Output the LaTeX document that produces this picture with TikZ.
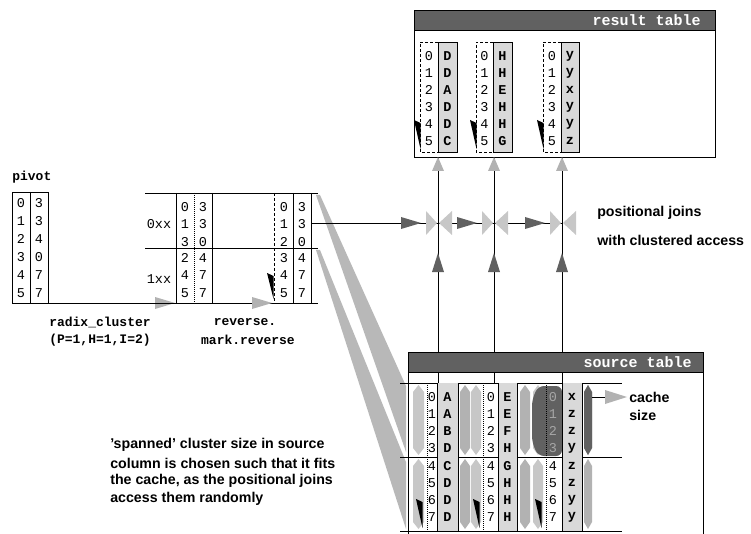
\documentclass[tikz,border=0pt]{standalone}
\usepackage{fontspec}
\setmainfont{Liberation Sans}
\newfontfamily\mono{Liberation Mono}
\usetikzlibrary{arrows.meta}
\newcommand\hexcol[5]{\fill[#5] (#1,#3+7) -- ({(#1+#2)/2},#3) -- (#2,#3+7) -- (#2,#4-7) -- ({(#1+#2)/2},#4) -- (#1,#4-7) -- cycle;}
\newcommand\wedgeat[3]{\fill ({#1-6},#2) -- ({#1+0.5},{#2+3}) -- ({#1+0.5},#3) -- cycle;}
\newcommand\rtri[3]{\fill[#3] ({#1-20},{#2-6}) -- (#1,#2) -- ({#1-20},{#2+6}) -- cycle;}
\newcommand\utri[4]{\fill[#4] ({#1-6},{#2+#3}) -- (#1,#2) -- ({#1+6},{#2+#3}) -- cycle;}
\begin{document}
\begin{tikzpicture}[x=1pt,y=-1pt,line width=0.6pt,
  every node/.style={inner sep=0pt},
  dig/.style={font=\mono\fontsize{13.5}{13.5}\selectfont},
  let/.style={font=\mono\bfseries\fontsize{13.5}{13.5}\selectfont},
  lab/.style={font=\mono\bfseries\fontsize{13}{13}\selectfont},
  ttl/.style={font=\mono\bfseries\fontsize{15}{15}\selectfont,text=white},
  note/.style={font=\bfseries\fontsize{14.2}{18}\selectfont,anchor=west},
  light/.style={fill=black!30},
  dark/.style={fill=black!62},
  fan/.style={fill=black!28},
  colfill/.style={fill=black!15},
  dots/.style={dash pattern=on 1pt off 1pt},
  dsh/.style={dash pattern=on 3pt off 2pt}]
\useasboundingbox (0,0) rectangle (751,534);

% ---------------- pivot ----------------
\node[lab,anchor=west] (pivlabel) at (12,177) {pivot};
\draw (12,192) rectangle (48,303);
\draw (30,192) -- (30,303);
\foreach \v [count=\i from 0] in {3,3,4,0,7,7}{
  \node[dig] (pa\i) at (21,{203+18*\i}) {\i};
  \node[dig] (pb\i) at (39,{203+18*\i}) {\v};
}
\coordinate (pivout) at (48,303);
\coordinate (radin) at (176,303);
\draw (pivout) -- (radin);
\rtri{175}{303}{light}

% ---------------- radix cluster / reverse ----------------
\foreach \y in {193,248,303}{\draw (145,\y) -- (318,\y);}
\draw (176,193) -- (176,303);
\draw[dots] (194,193) -- (194,303);
\draw (212,193) -- (212,303);
\node[dig] (c0xx) at (159,224) {0xx};
\node[dig] (c1xx) at (159,279) {1xx};
\foreach \a/\b [count=\i from 0] in {0/3,1/3,3/0,2/4,4/7,5/7}{
  \node[dig] (ra\i) at (185,{\i<3 ? 207+17.5*\i : 258+17.5*(\i-3)}) {\a};
  \node[dig] (rb\i) at (203,{\i<3 ? 207+17.5*\i : 258+17.5*(\i-3)}) {\b};
}
\foreach \a/\b [count=\i from 0] in {0/3,1/3,2/0,3/4,4/7,5/7}{
  \node[dig] (va\i) at (284,{\i<3 ? 207+17.5*\i : 258+17.5*(\i-3)}) {\a};
  \node[dig] (vb\i) at (302,{\i<3 ? 207+17.5*\i : 258+17.5*(\i-3)}) {\b};
}
\draw[dsh] (274,193) -- (274,303);
\draw (293,193) -- (293,303);
\draw (311,193) -- (311,303);
\wedgeat{273}{273}{299}
\coordinate (radout) at (212,303);
\coordinate (revin) at (274,303);
\draw (radout) -- (revin);
\rtri{272}{303}{light}

\node[lab] (rc1) at (100,322) {radix\_cluster};
\node[lab] (rc2) at (100,340) {(P=1,H=1,I=2)};
\node[lab] (rv1) at (245,322) {reverse.};
\node[lab] (rv2) at (248,340) {mark.reverse};

% ---------------- fans ----------------
\fill[fan] (316,195) -- (320,195) -- (406,386) -- (406,452) -- cycle;
\fill[fan] (316,250) -- (320,250) -- (406,462) -- (406,529) -- cycle;

% ---------------- result table ----------------
\draw[fill=white] (414,10) rectangle (715,157);
\foreach \a/\b/\c/\L [count=\g] in {420/438/457/{D,D,A,D,D,C},476/493/512/{H,H,E,H,H,G},543/561/579/{y,y,x,y,y,z}}{
  \fill[colfill] (\b,42) rectangle (\c,152);
  \draw (\b,42) rectangle (\c,152);
  \draw[dsh] (\b,42) -- (\a,42) -- (\a,152) -- (\b,152);
  \wedgeat{\a}{120}{149}
  \foreach \l [count=\i from 0] in \L {
    \node[dig] (rsd\g\i) at ({(\a+\b)/2},{56+17*\i}) {\i};
    \node[let] (rsl\g\i) at ({(\b+\c)/2},{56+17*\i}) {\l};
  }
}

% ---------------- source table ----------------
\fill[white] (408,352) rectangle (703,534);
\draw (408,352) -- (408,534);
\draw (703,352) -- (703,534);

% ---------------- joins ----------------
\coordinate (revout) at (311,223);
\coordinate (j1) at (438,223);
\coordinate (j2) at (494,223);
\coordinate (j3) at (562,223);
\coordinate (res1) at (438,157);
\coordinate (res2) at (494,157);
\coordinate (res3) at (562,157);
\coordinate (src1) at (438,383);
\coordinate (src2) at (494,383);
\coordinate (src3) at (562,383);
\draw (revout) -- (j3);
\draw (src1) -- (res1);
\draw (src2) -- (res2);
\draw (src3) -- (res3);
\foreach \c in {438,494,562}{
  \fill[black!22] ({\c-12},211) -- ({\c-1},223) -- ({\c-12},235) -- cycle;
  \fill[black!22] ({\c+14},211) -- ({\c+1},223) -- ({\c+14},235) -- cycle;
  \rtri{\c-17}{223}{dark}
  \utri{\c}{253}{19}{dark}
  \utri{\c}{157}{14}{light}
}
\node[note] (pj1) at (597,213) {positional joins};
\node[note] (pj2) at (597,240) {with clustered access};

% source title bar
\draw[fill=black!62] (408,352) rectangle (703,372);
\node[ttl,anchor=east] (srctitle) at (692,362) {source table};
% result title bar
\draw[fill=black!62] (414,10) rectangle (715,30);
\node[ttl,anchor=east] (restitle) at (701,20) {result table};

% source data
\foreach \y in {383,457,531}{\draw (400,\y) -- (622,\y);}
\foreach \h/\hh/\dt/\dx/\s/\e/\ra/\rb/\g/\L in {
  413/424/427/432/437/458/460/470/1/{A,A,B,D,C,D,D,D},
  471/481/483/491/498/517/520/530/2/{E,E,F,H,G,H,H,H},
  533/543/546/553/562/582/584/592/3/{x,z,z,y,z,z,y,y}}{
  \hexcol{\h}{\hh}{385}{455}{black!22}
  \hexcol{\h}{\hh}{459}{529}{black!22}
  \hexcol{\ra}{\rb}{385}{455}{black!30}
  \hexcol{\ra}{\rb}{459}{529}{black!30}
  \ifnum\g=3
    \fill[black!62,rounded corners=6] (532,400) -- (538,386) -- (562,386) -- (562,456) -- (538,456) -- (532,442) -- cycle;
    \hexcol{\ra}{\rb}{385}{455}{black!62}
  \fi
  \fill[colfill] (\s,383) rectangle (\e,531);
  \draw (\s,383) -- (\s,531) (\e,383) -- (\e,531);
  \draw[dots] (\dt,383) -- (\dt,531);
  \wedgeat{\hh-2}{499}{528}
  \foreach \l [count=\i from 0] in \L {
    \pgfmathsetmacro\yy{\i<4 ? 397+17*\i : 466+17*(\i-4)}
    \ifnum\g=3 \ifnum\i<4
      \node[dig,text=black!35] (sd\g\i) at (\dx,\yy) {\i};
    \else
      \node[dig] (sd\g\i) at (\dx,\yy) {\i};
    \fi \else
      \node[dig] (sd\g\i) at (\dx,\yy) {\i};
    \fi
    \node[let] (sl\g\i) at ({(\s+\e)/2},\yy) {\l};
  }
}

% cache size
\coordinate (cachefrom) at (592,397);
\coordinate (cacheto) at (606,397);
\draw (cachefrom) -- (cacheto);
\fill[black!30] (605,390) -- (627,397) -- (605,404) -- cycle;
\node[note] (cache1) at (629,397) {cache};
\node[note] (cache2) at (629,415) {size};

% note
\node[note] (para1) at (110,445) {'spanned' cluster size in source};
\node[note] (para2) at (110,463) {column is chosen such that it fits};
\node[note] (para3) at (110,481) {the cache, as the positional joins};
\node[note] (para4) at (110,499) {access them randomly};
\end{tikzpicture}
\end{document}
